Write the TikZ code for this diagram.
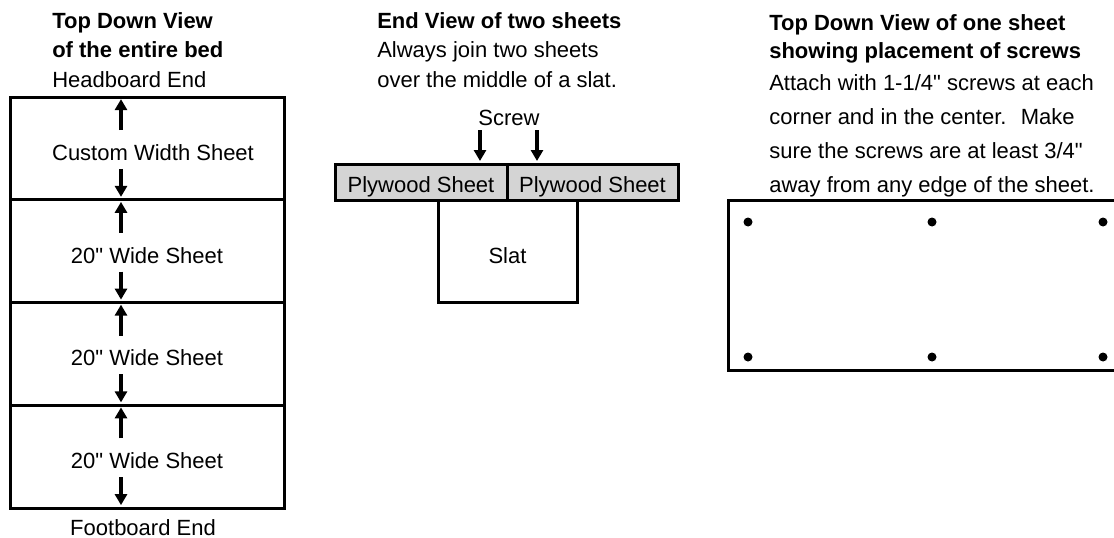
\documentclass[tikz,border=0pt]{standalone}
\usepackage{fontspec}
\setmainfont{Liberation Sans}[Ligatures=TeXOff]
\usetikzlibrary{arrows.meta}
\usetikzlibrary{positioning}
\definecolor{plygray}{rgb}{0.83,0.83,0.83}

\begin{document}
\begin{tikzpicture}[
            x = 1pt, y = -1pt, % pixel grid, y runs down
            font = \fontsize{22}{29.5}\selectfont,
            thick arrow/.style = {line width = 4pt, -{Triangle[width=12pt,length=11pt]}},
            semithick % line style
        ]

        \tikzstyle{sheet}=[
            draw,
            line width = 3pt,
            outer sep = 0pt,
            inner sep = 0pt,
            minimum width = 274pt,
            minimum height = 102.75pt
        ]
        \tikzstyle{plywood}=[sheet, fill = plygray, minimum height = 36pt, text height = 20pt, text depth = 0pt]
        \tikzstyle{caption}=[anchor = base west, align = left, inner sep = 0pt]

        \useasboundingbox (0,0) rectangle (1114,538);

	% whole bed, top down (caption anchored at its last line)
        \node[caption] (bedtitle) at (52,87) {\textbf{Top Down View}\\\textbf{of the entire bed}\\Headboard End};
        \node[sheet] (custom) at (147,148.5) {};
        \node[sheet] (wide1) [below = 0pt of custom] {};
        \node[sheet] (wide2) [below = 0pt of wide1] {};
        \node[sheet] (wide3) [below = 0pt of wide2] {};

        \node[anchor = base] (customtext) at (153,160) {Custom Width Sheet};
        \node[anchor = base] (wide1text) at (147,263) {20" Wide Sheet};
        \node[anchor = base] (wide2text) at (147,365) {20" Wide Sheet};
        \node[anchor = base] (wide3text) at (147,468) {20" Wide Sheet};
        \node[anchor = base] (footboard) at (143,535) {Footboard End};

        \foreach \s in {custom, wide1, wide2, wide3} {
            \draw[thick arrow] ([xshift=-26pt, yshift=-33pt]\s.north) -- ([xshift=-26pt, yshift=-2pt]\s.north);
            \draw[thick arrow] ([xshift=-26pt, yshift=31pt]\s.south) -- ([xshift=-26pt, yshift=3pt]\s.south);
        }

        % end view
        \node[caption] (endtitle) at (377,87) {\textbf{End View of two sheets}\\Always join two sheets\\over the middle of a slat.};
        \node[sheet, minimum width = 139pt, minimum height = 102pt] (slat) at (507.5,251) {};
        \node[anchor = base] (slattext) at (507.5,263) {Slat};
        \node[plywood, minimum width = 172pt] (plyleft) at (421,182) {Plywood Sheet};
        \node[plywood, minimum width = 171pt] (plyright) [right = 0pt of plyleft] {Plywood Sheet};

        \node[anchor = base] (screw) at (509,125) {Screw};
        \draw[thick arrow, shorten > = 3pt] ([xshift=-29pt, yshift=-5pt]screw.base) -- ([xshift=-29pt]screw.base |- plyleft.north);
        \draw[thick arrow, shorten > = 3pt] ([xshift=28pt, yshift=-5pt]screw.base) -- ([xshift=28pt]screw.base |- plyright.north);

        % one sheet, screw places
        \node[caption, font = \fontsize{22}{28}\selectfont] (sheettitle) at (769,192) {\textbf{Top Down View of one sheet}\\\textbf{showing placement of screws}\\[4pt]Attach with 1-1/4" screws at each\\[6pt]corner and in the center.~ Make\\[6pt]sure the screws are at least 3/4"\\[6pt]away from any edge of the sheet.};
        \draw[line width = 3pt] (1120,200) -- (728,200) -- (728,370) -- (1120,370);
        \foreach \x in {748, 932, 1103}
            \foreach \y in {222, 357}
                \fill (\x,\y) circle (4.5pt);

  \end{tikzpicture}
\end{document}
